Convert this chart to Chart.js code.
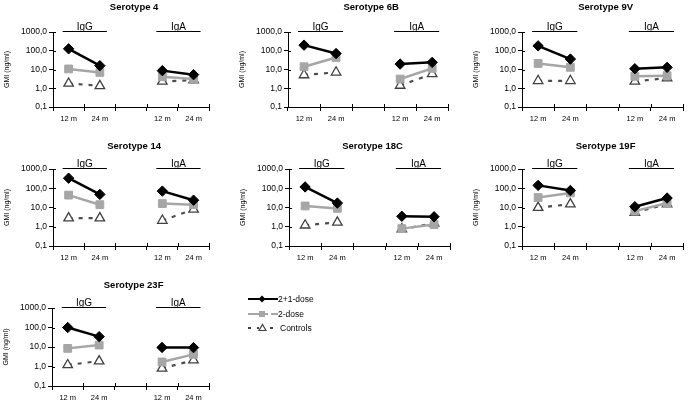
<!DOCTYPE html>
<html>
<head>
<meta charset="utf-8">
<script src="https://cdn.jsdelivr.net/npm/chart.js@4.4.1/dist/chart.umd.min.js"></script>
<style>
  body { margin: 0; background: #fff; width: 689px; height: 402px; overflow: hidden; position: relative;
         font-family: "Liberation Sans", Arial, sans-serif; }
  .painel { position: absolute; }
  .leg { position: absolute; left: 246px; font-size: 8.5px; color: #000; }
  .leg svg { position: absolute; left: 0; top: 0; }
  .leg span { position: absolute; left: 32px; top: 1px; line-height: 10px; white-space: nowrap; }
</style>
</head>
<body>
<div id="graficos"></div>
<div class="leg" style="top:293px">
  <svg width="32" height="12"><line x1="2" y1="6" x2="32" y2="6" stroke="#000" stroke-width="2"/><polygon points="16,2.5 19.5,6 16,9.5 12.5,6" fill="#000"/></svg>
  <span>2+1-dose</span>
</div>
<div class="leg" style="top:308px">
  <svg width="32" height="12"><line x1="2" y1="6" x2="22" y2="6" stroke="#A6A6A6" stroke-width="2"/><line x1="25" y1="6" x2="32" y2="6" stroke="#A6A6A6" stroke-width="2"/><rect x="13" y="3" width="6" height="6" fill="#A6A6A6"/></svg>
  <span>2-dose</span>
</div>
<div class="leg" style="top:322px">
  <svg width="32" height="12"><line x1="2" y1="6" x2="5" y2="6" stroke="#404040" stroke-width="2"/><line x1="24" y1="6" x2="27" y2="6" stroke="#404040" stroke-width="2"/><line x1="11" y1="6" x2="13" y2="6" stroke="#404040" stroke-width="2"/><polygon points="16.5,2.5 20,8.5 13,8.5" fill="#fff" stroke="#404040" stroke-width="1.2"/></svg>
  <span style="left:34px">Controls</span>
</div>
<script>
// categorias do eixo x (coluna vazia separa IgG de IgA)
const meses = ['12 m', '24 m', '', '12 m', '24 m'];
const sorotipos = ['Serotype 4', 'Serotype 6B', 'Serotype 9V', 'Serotype 14', 'Serotype 18C', 'Serotype 19F', 'Serotype 23F'];
const ticksY = [0.1, 1, 10, 100, 1000];

// GMI (ng/ml): IgG 12m, IgG 24m, -, IgA 12m, IgA 24m
const dose21 = [
  [127, 16, null, 8.7, 5.3],
  [199, 71, null, 19.5, 24],
  [182, 36, null, 11, 13],
  [333, 48, null, 71, 24],
  [117, 17, null, 3.5, 3.3],
  [141, 76, null, 11, 31],
  [100, 34, null, 9.5, 9.3]
];
const dose2 = [
  [10.7, 7, null, 4.1, 3.1],
  [14, 44, null, 3.1, 11.5],
  [21, 13, null, 4.3, 4.7],
  [44, 14, null, 16, 14],
  [12, 9, null, 0.8, 1.3],
  [33, 57, null, 6.5, 17],
  [8.5, 12.6, null, 1.7, 4.2]
];
const controles = [
  [1.8, 1.35, null, 2.3, 2.7],
  [5.1, 7.1, null, 1.4, 5.8],
  [2.5, 2.5, null, 2.3, 3.5],
  [2.8, 2.8, null, 2.1, 8],
  [1.2, 1.7, null, 0.75, 1.5],
  [9.8, 15, null, 5.5, 15],
  [1.2, 1.9, null, 0.8, 2.1]
];

// posição de cada painel na página
const caixas = [
  { eixoX: 53,  topo: 0,   areaTopo: 32,  areaBase: 107, largura: 160 },
  { eixoX: 288, topo: 0,   areaTopo: 32,  areaBase: 107, largura: 164 },
  { eixoX: 522, topo: 0,   areaTopo: 32,  areaBase: 107, largura: 165 },
  { eixoX: 53,  topo: 135, areaTopo: 169, areaBase: 246, largura: 160 },
  { eixoX: 289, topo: 135, areaTopo: 169, areaBase: 246, largura: 165 },
  { eixoX: 522, topo: 135, areaTopo: 169, areaBase: 246, largura: 165 },
  { eixoX: 52,  topo: 265, areaTopo: 308, areaBase: 386, largura: 161 }
];
const LARGURA_Y = 53;

const decoracao = {
  id: 'decoracao',
  afterDraw(chart, args, opts) {
    const ctx = chart.ctx;
    const x = chart.scales.x;
    const y = chart.scales.y;
    const area = chart.chartArea;
    ctx.save();
    ctx.strokeStyle = '#000';
    ctx.lineWidth = 1;
    // marcas cruzando os eixos
    for (let i = 0; i <= meses.length; i++) {
      const px = Math.round(x.getPixelForValue(i - 0.5)) + 0.5;
      ctx.beginPath();
      ctx.moveTo(px, area.bottom - 3);
      ctx.lineTo(px, area.bottom);
      ctx.stroke();
    }
    ticksY.forEach(v => {
      const py = Math.round(y.getPixelForValue(v)) + 0.5;
      ctx.beginPath();
      ctx.moveTo(area.left, py);
      ctx.lineTo(area.left + 3, py);
      ctx.stroke();
    });
    // título
    ctx.fillStyle = '#000';
    ctx.textAlign = 'center';
    ctx.textBaseline = 'middle';
    ctx.font = 'bold 9.5px "Liberation Sans", Arial, sans-serif';
    ctx.fillText(opts.titulo, (area.left + area.right) / 2 + 3, opts.tituloY);
    // grupos IgG / IgA
    ctx.font = '10px "Liberation Sans", Arial, sans-serif';
    ctx.textBaseline = 'alphabetic';
    [['IgG', 0, 1], ['IgA', 3, 4]].forEach(([txt, a, b]) => {
      const x0 = x.getPixelForValue(a) - 6;
      const x1 = x.getPixelForValue(b) + 7;
      const ly = Math.round(area.top) - 0.5;
      ctx.beginPath();
      ctx.moveTo(x0, ly);
      ctx.lineTo(x1, ly);
      ctx.stroke();
      ctx.fillText(txt, (x0 + x1) / 2, ly - 2);
    });
    ctx.restore();
  }
};

function criarPainel(i) {
  const c = caixas[i];
  const largura = LARGURA_Y + c.largura + 3;
  const altura = c.areaBase - c.topo + 22;
  const div = document.createElement('div');
  div.className = 'painel';
  div.style.left = (c.eixoX - LARGURA_Y) + 'px';
  div.style.top = c.topo + 'px';
  const canvas = document.createElement('canvas');
  canvas.width = largura;
  canvas.height = altura;
  canvas.style.width = largura + 'px';
  canvas.style.height = altura + 'px';
  div.appendChild(canvas);
  document.getElementById('graficos').appendChild(div);

  const tituloY = [7, 146, 285][[0, 0, 0, 1, 1, 1, 2][i]] - c.topo;

  new Chart(canvas.getContext('2d'), {
    type: 'line',
    data: {
      labels: meses,
      datasets: [
        {
          label: '2+1-dose',
          data: dose21[i],
          borderColor: '#000',
          backgroundColor: '#000',
          borderWidth: 2.5,
          pointStyle: 'rectRot',
          pointRadius: 5.2,
          pointBorderWidth: 1
        },
        {
          label: '2-dose',
          data: dose2[i],
          borderColor: '#A6A6A6',
          backgroundColor: '#A6A6A6',
          borderWidth: 2.5,
          pointStyle: 'rect',
          pointRadius: 5.5,
          pointBorderWidth: 1
        },
        {
          label: 'Controls',
          data: controles[i],
          borderColor: '#4d4d4d',
          backgroundColor: '#fff',
          borderWidth: 2.2,
          borderDash: [4, 6],
          pointStyle: 'triangle',
          pointRadius: 5.5,
          pointBorderColor: '#404040',
          pointBorderWidth: 1.3
        }
      ]
    },
    options: {
      responsive: false,
      animation: false,
      spanGaps: false,
      layout: { padding: { top: c.areaTopo - c.topo, bottom: 2, left: 0, right: 3 } },
      plugins: {
        legend: { display: false },
        tooltip: { enabled: false },
        decoracao: { titulo: sorotipos[i], tituloY: tituloY }
      },
      scales: {
        x: {
          type: 'category',
          offset: true,
          grid: { offset: true, drawOnChartArea: false, tickLength: 4, color: '#000', lineWidth: 1 },
          border: { color: '#000', width: 1 },
          ticks: { color: '#000', font: { size: 7.5, family: '"Liberation Sans", Arial, sans-serif' }, padding: 3, maxRotation: 0, autoSkip: false },
          afterFit(s) { s.height = 20; }
        },
        y: {
          type: 'logarithmic',
          min: 0.1,
          max: 1000,
          afterBuildTicks(s) { s.ticks = ticksY.map(v => ({ value: v })); },
          grid: { drawOnChartArea: false, tickLength: 4, color: '#000', lineWidth: 1 },
          border: { color: '#000', width: 1 },
          ticks: {
            color: '#000',
            padding: 2,
            font: { size: 8.5, family: '"Liberation Sans", Arial, sans-serif' },
            callback: v => v.toFixed(1).replace('.', ',')
          },
          title: { display: true, text: 'GMI (ng/ml)', color: '#000', padding: { top: 3, bottom: 0 }, font: { size: 7, family: '"Liberation Sans", Arial, sans-serif' } },
          afterFit(s) { s.width = LARGURA_Y; }
        }
      }
    },
    plugins: [decoracao]
  });
}

for (let i = 0; i < sorotipos.length; i++) criarPainel(i);
</script>
</body>
</html>
